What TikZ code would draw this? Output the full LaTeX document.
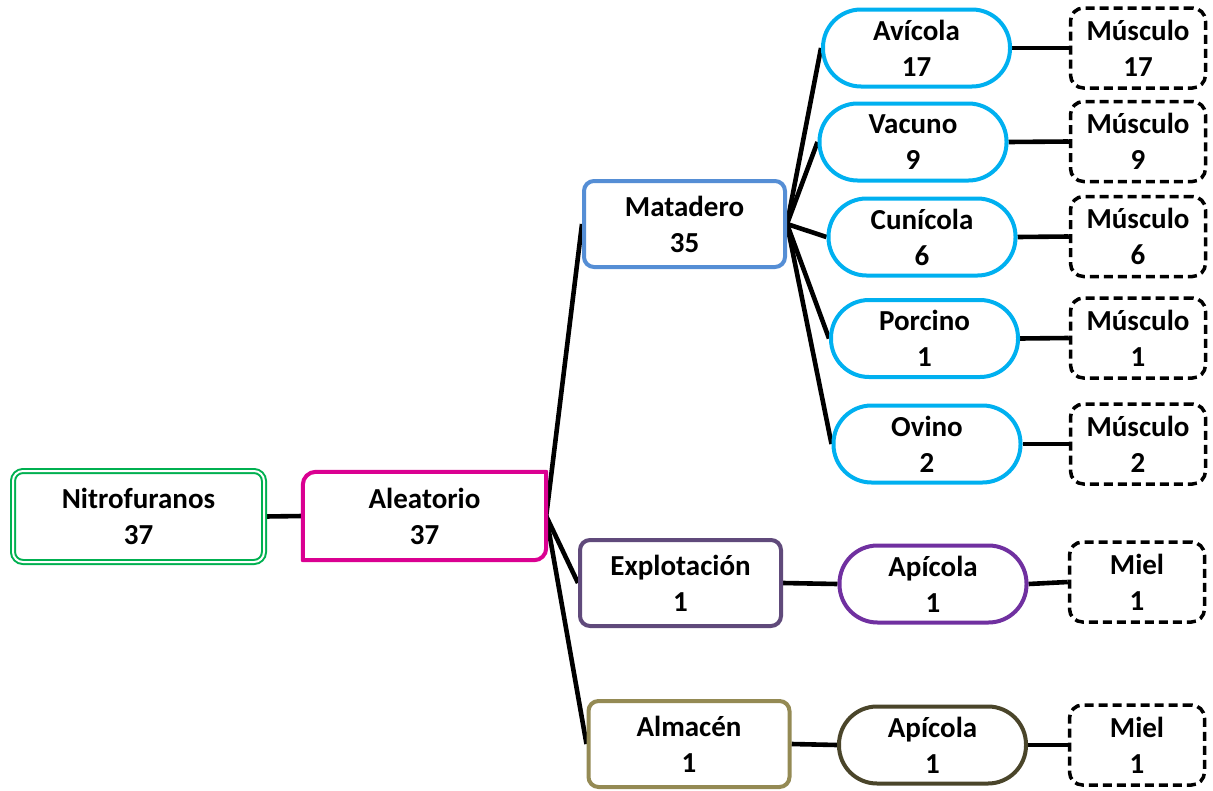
\documentclass[tikz,border=0pt]{standalone}
\usepackage{fontspec}
\setmainfont{Carlito}
\usetikzlibrary{backgrounds}

\definecolor{rootgreen}{HTML}{00B050}
\definecolor{aleamag}{RGB}{218,0,145}
\definecolor{matblue}{HTML}{558ED5}
\definecolor{explpurple}{HTML}{604A7B}
\definecolor{almolive}{HTML}{948A54}
\definecolor{speccyan}{HTML}{00B0F0}
\definecolor{apipurple}{HTML}{7030A0}
\definecolor{apiolive}{HTML}{4A452A}

\newcommand\lblfont{\bfseries\fontsize{29}{36}\selectfont}

\tikzset{
  lbl/.style={align=center, font=\lblfont, inner sep=0pt, fill=white},
  box/.style={lbl, draw, line width=4pt, rounded corners=10pt,
              minimum width=201pt, minimum height=86pt},
  pill/.style={lbl, draw, line width=4pt, rounded corners=38pt,
               minimum width=187pt, minimum height=77pt},
  leaf/.style={lbl, draw=black, line width=3.5pt, rounded corners=13pt,
               dash pattern=on 9pt off 5pt,
               minimum width=135pt, minimum height=80pt},
  link/.style={line width=4.6pt, black},
}

\begin{document}
\begin{tikzpicture}[x=1pt, y=1pt]
\useasboundingbox (0,0) rectangle (1213,-790);

% root and first split
\node[lbl, draw=rootgreen, line width=2pt, double=white, double distance=2pt,
      rounded corners=10pt, minimum width=251pt, minimum height=91pt]
      (nitro) at (138.5,-516.5) {Nitrofuranos\\37};
\node[lbl, minimum width=243pt, minimum height=88pt]
      (alea) at (424.5,-516) {Aleatorio\\37};
\draw[aleamag, line width=4pt, line join=round]
  (alea.south west) -- ([yshift=-13pt]alea.north west)
  arc[start angle=180, end angle=90, radius=13pt]
  -- (alea.north east) -- ([yshift=12pt]alea.south east)
  arc[start angle=0, end angle=-90, radius=12pt] -- cycle;

% sampling places
\node[box, draw=matblue]    (mat)  at (684.5,-224) {Matadero\\35};
\node[box, draw=explpurple] (expl) at (680.5,-583) {Explotación\\1};
\node[box, draw=almolive]   (alm)  at (689,-744)   {Almacén\\1};

% species
\node[pill, draw=speccyan] (avi) at (916.5,-48)  {Avícola\\17};
\node[pill, draw=speccyan] (vac) at (913,-142)   {Vacuno\\9};
\node[pill, draw=speccyan] (cun) at (922,-237)   {Cunícola\\6};
\node[pill, draw=speccyan] (por) at (924.5,-338.5) {Porcino\\1};
\node[pill, draw=speccyan] (ovi) at (927,-444)   {Ovino\\2};
\node[pill, draw=apipurple] (api1) at (933,-584) {Apícola\\1};
\node[pill, draw=apiolive]  (api2) at (932.5,-745) {Apícola\\1};

% matrices
\node[leaf] (m1) at (1138,-48)    {Músculo\\17};
\node[leaf] (m2) at (1138,-141.5) {Músculo\\9};
\node[leaf] (m3) at (1138,-236.5) {Músculo\\6};
\node[leaf] (m4) at (1138,-338)   {Músculo\\1};
\node[leaf] (m5) at (1138,-444)   {Músculo\\2};
\node[leaf] (m6) at (1137,-582)   {Miel\\1};
\node[leaf] (m7) at (1137,-745)   {Miel\\1};

% connectors
\begin{scope}[on background layer]
  \draw[link] (nitro.east) -- (alea.west);
  \draw[link] (alea.east) -- (mat.west);
  \draw[link] (alea.east) -- (expl.west);
  \draw[link] (alea.east) -- (alm.west);
  \foreach \s in {avi,vac,cun,por,ovi}
    \draw[link] (mat.east) -- (\s.west);
  \draw[link] (expl.east) -- (api1.west);
  \draw[link] (alm.east) -- (api2.west);
  \draw[link] (avi.east) -- (m1.west);
  \draw[link] (vac.east) -- (m2.west);
  \draw[link] (cun.east) -- (m3.west);
  \draw[link] (por.east) -- (m4.west);
  \draw[link] (ovi.east) -- (m5.west);
  \draw[link] (api1.east) -- (m6.west);
  \draw[link] (api2.east) -- (m7.west);
\end{scope}
\end{tikzpicture}
\end{document}
